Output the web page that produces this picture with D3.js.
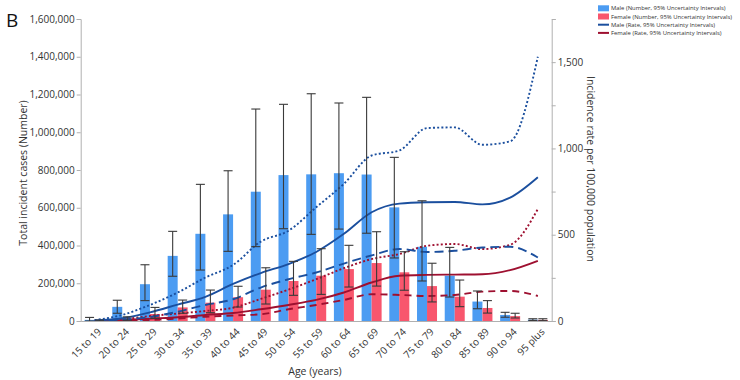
<!DOCTYPE html>
<html><head><meta charset="utf-8">
<script src="https://cdn.jsdelivr.net/npm/d3@7"></script>
<style>body{margin:0;background:#fff}svg{display:block;font-family:"Open Sans",sans-serif}</style>
</head><body><svg id="c" width="740" height="380"></svg>
<script>
const categories = ["15 to 19","20 to 24","25 to 29","30 to 34","35 to 39","40 to 44","45 to 49","50 to 54","55 to 59","60 to 64","65 to 69","70 to 74","75 to 79","80 to 84","85 to 89","90 to 94","95 plus"];
const maleNum     = [6000, 75000, 195000, 345000, 462000, 565000, 685000, 773000, 777000, 783000, 776000, 602000, 393000, 240000, 103000, 32000, 7000];
const maleNumLow  = [0, 41000, 108000, 237000, 270000, 369000, 394000, 489000, 459000, 487000, 465000, 334000, 212000, 127000, 65000, 20000, 3000];
const maleNumHigh = [19000, 110000, 298000, 475000, 724000, 796000, 1123000, 1148000, 1204000, 1155000, 1185000, 867000, 637000, 390000, 159000, 46000, 12000];
const femaleNum     = [2000, 12000, 37000, 72000, 97000, 126000, 166000, 212000, 240000, 275000, 307000, 258000, 185000, 129000, 69000, 26000, 6000];
const femaleNumLow  = [0, 4000, 14000, 41000, 44000, 74000, 90000, 136000, 141000, 180000, 185000, 163000, 101000, 76000, 42000, 16000, 2000];
const femaleNumHigh = [5000, 22000, 72000, 111000, 164000, 184000, 282000, 316000, 383000, 401000, 473000, 367000, 306000, 217000, 108000, 41000, 12000];
const maleRate      = [3, 16, 50, 95, 140, 215, 278, 330, 400, 505, 630, 680, 688, 690, 676, 715, 833];
const maleRateLow   = [1, 8, 23, 54, 93, 126, 194, 242, 281, 333, 380, 417, 400, 407, 426, 430, 368];
const maleRateHigh  = [5, 35, 93, 165, 252, 325, 460, 523, 659, 795, 959, 988, 1118, 1122, 1021, 1041, 1531];
const femaleRate     = [1, 5, 14, 22, 35, 46, 68, 93, 122, 165, 223, 262, 267, 269, 271, 295, 349];
const femaleRateLow  = [0.5, 2, 6, 14, 25, 32, 39, 68, 93, 122, 155, 151, 145, 151, 170, 174, 145];
const femaleRateHigh = [2, 10, 29, 43, 58, 77, 128, 182, 242, 306, 359, 388, 436, 446, 417, 442, 649];
const leftTicks = [0,200000,400000,600000,800000,1000000,1200000,1400000,1600000];
const rightTicks = [0,250,500,750,1000,1250,1500,1750];
const legendItems = ["Male (Number, 95% Uncertainty Intervals)","Female (Number, 95% Uncertainty Intervals)","Male (Rate, 95% Uncertainty Intervals)","Female (Rate, 95% Uncertainty Intervals)"];

const C = {mBar:"#4c9cf2", fBar:"#f8566d", mLine:"#1b4f9e", fLine:"#9e1030", err:"#3a3a3a", axis:"#b0b0b0", text:"#333"};
const svg = d3.select("#c");
const L = 80.7, R = 551.7, T = 19, B = 321;
const x = d3.scaleBand().domain(categories).range([L, R]);
const yL = d3.scaleLinear().domain([0,1600000]).range([B, T]);
const yR = d3.scaleLinear().domain([0,1750]).range([B, T]);
const bw = 10;

const g = svg.append("g");
const idx = d3.range(categories.length);
g.selectAll(".mb").data(idx).join("rect")
  .attr("x", i => x(categories[i]) + x.bandwidth()/2 - bw).attr("width", bw)
  .attr("y", i => yL(maleNum[i])).attr("height", i => yL(0) - yL(maleNum[i])).attr("fill", C.mBar);
g.selectAll(".fb").data(idx).join("rect")
  .attr("x", i => x(categories[i]) + x.bandwidth()/2).attr("width", bw)
  .attr("y", i => yL(femaleNum[i])).attr("height", i => yL(0) - yL(femaleNum[i])).attr("fill", C.fBar);

function errBars(lo, hi, off){
  const eg = svg.append("g").attr("stroke", C.err).attr("stroke-width", 1.1).attr("fill","none");
  idx.forEach(i => {
    const cx = x(categories[i]) + x.bandwidth()/2 + off;
    const y1 = yL(lo[i]), y2 = yL(hi[i]);
    eg.append("line").attr("x1",cx).attr("x2",cx).attr("y1",y1).attr("y2",y2);
    eg.append("line").attr("x1",cx-4.5).attr("x2",cx+4.5).attr("y1",y1).attr("y2",y1);
    eg.append("line").attr("x1",cx-4.5).attr("x2",cx+4.5).attr("y1",y2).attr("y2",y2);
  });
}

const line = d3.line().x((d,i) => x(categories[i]) + x.bandwidth()/2).y(d => yR(d)).curve(d3.curveMonotoneX);
function drawLine(arr, color, dash){
  svg.append("path").datum(arr).attr("d", line).attr("fill","none").attr("stroke", color)
    .attr("stroke-width", 1.9).attr("stroke-dasharray", dash);
}
drawLine(femaleRateLow, C.fLine, "7,5");
drawLine(femaleRateHigh, C.fLine, "2,2.2");
drawLine(femaleRate, C.fLine, null);
drawLine(maleRateLow, C.mLine, "9,5");
drawLine(maleRateHigh, C.mLine, "2,2.2");
drawLine(maleRate, C.mLine, null);

errBars(maleNumLow, maleNumHigh, -bw/2);
errBars(femaleNumLow, femaleNumHigh, bw/2);

const ax = svg.append("g").attr("transform", `translate(${L},0)`)
  .call(d3.axisLeft(yL).tickValues(leftTicks).tickFormat(d3.format(",")).tickSize(4).tickPadding(2));
const ar = svg.append("g").attr("transform", `translate(${R},0)`)
  .call(d3.axisRight(yR).tickValues(rightTicks).tickFormat(d => d % 500 === 0 ? d3.format(",")(d) : "").tickSize(4).tickPadding(2));
const axb = svg.append("g").attr("transform", `translate(0,${B})`)
  .call(d3.axisBottom(x).tickSize(0).tickPadding(0));
[ax, ar, axb].forEach(a => {
  a.selectAll(".domain").attr("stroke", C.axis);
  a.selectAll(".tick line").attr("stroke", C.axis);
  a.selectAll("text").attr("fill", C.text).style("font-size","10px").style("font-family",'"Open Sans",sans-serif');
});
axb.selectAll(".tick text").attr("text-anchor","end").attr("dy","0.35em")
  .attr("transform","translate(5,9) rotate(-45)");

svg.append("text").attr("transform","translate(27,173) rotate(-90)").attr("text-anchor","middle")
  .style("font-size","10.5px").attr("fill",C.text).text("Total incident cases (Number)");
svg.append("text").attr("transform","translate(587,169) rotate(90)").attr("text-anchor","middle")
  .style("font-size","10.5px").attr("fill",C.text).text("Incidence rate per 100,000 population");
svg.append("text").attr("x",315).attr("y",375).attr("text-anchor","middle")
  .style("font-size","10.5px").attr("fill",C.text).text("Age (years)");
svg.append("text").attr("x",6).attr("y",27).style("font-size","19px").attr("fill","#111").text("B");

const lg = svg.append("g");
const lgColors = [C.mBar, C.fBar, C.mLine, C.fLine];
legendItems.forEach((t,i) => {
  const yy = 8.3 + i*8.2;
  if (i < 2) lg.append("rect").attr("x",598).attr("y",yy-3).attr("width",11).attr("height",6).attr("fill",lgColors[i]);
  else lg.append("line").attr("x1",598).attr("x2",609).attr("y1",yy).attr("y2",yy).attr("stroke",lgColors[i]).attr("stroke-width",2);
  lg.append("text").attr("x",611).attr("y",yy).attr("dy","0.35em").style("font-size","5.9px").attr("fill",C.text).text(t);
});
</script></body></html>
